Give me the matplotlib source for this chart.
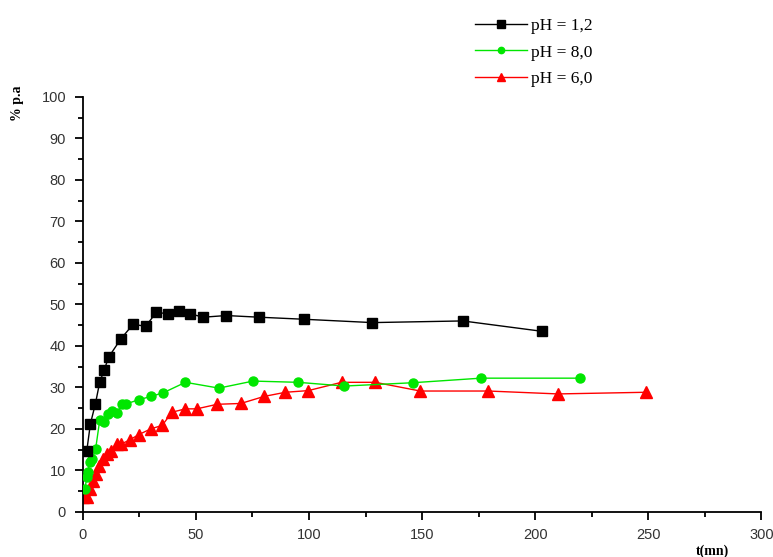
import matplotlib
matplotlib.use("Agg")
import matplotlib.pyplot as plt
from matplotlib.ticker import MultipleLocator

# time (mn) and % p.a for each pH
t_12 = [1.8, 3.4, 5.6, 7.5, 9.5, 11.5, 16.9, 22.3, 27.8, 32.6, 37.6, 42.4, 47.6,
        53.3, 63.4, 78, 98, 128, 168, 203]
p_12 = [14.7, 21.2, 26, 31.2, 34.2, 37.3, 41.7, 45.2, 44.7, 48.1, 47.7, 48.5, 47.7,
        46.9, 47.3, 46.9, 46.4, 45.6, 46.0, 43.5]

t_80 = [0.9, 1.9, 2.3, 3.1, 4.3, 5.7, 7.5, 9.4, 11.1, 13.1, 15.1, 17.5, 19.2, 24.8,
        30.2, 35.7, 45.4, 60.2, 75.3, 95.2, 115.7, 145.9, 176, 219.7]
p_80 = [5.5, 8.3, 9.5, 11.9, 12.7, 15.1, 22, 21.6, 23.6, 24.4, 23.8, 26, 26, 27,
        27.8, 28.7, 31.2, 29.8, 31.5, 31.2, 30.3, 31.1, 32.2, 32.2]

t_60 = [0.1, 1.9, 3.4, 4.5, 5.7, 7.2, 8.9, 10.7, 12.6, 15.1, 17, 20.7, 24.8, 30.2,
        35.1, 39.5, 45.4, 50.4, 59.4, 69.9, 80.2, 89.6, 99.7, 114.4, 129.3, 149.2,
        179.3, 210.1, 249]
p_60 = [3.5, 3.6, 5.5, 7.5, 9.1, 11.1, 12.7, 13.9, 14.7, 16.3, 16.3, 17.3, 18.6, 20,
        20.8, 24, 24.8, 24.8, 25.9, 26.1, 27.8, 28.8, 29.2, 31.2, 31.2, 29.1,
        29.1, 28.4, 28.8]

labels = ["pH = 1,2", "pH = 8,0", "pH = 6,0"]

fig = plt.figure(figsize=(7.73, 5.57), dpi=100)
ax = fig.add_axes([0.107, 0.0813, 0.878, 0.7446])

l60, = ax.plot(t_60, p_60, color="#ff0000", marker="^", markersize=8, lw=1, zorder=2)
l80, = ax.plot(t_80, p_80, color="#00e600", marker="o", markersize=6.5, lw=1, zorder=3)
l12, = ax.plot(t_12, p_12, color="black", marker="s", markersize=7.5, lw=1, zorder=4)

ax.set_xlim(0, 300)
ax.set_ylim(0, 100)
ax.xaxis.set_major_locator(MultipleLocator(50))
ax.xaxis.set_minor_locator(MultipleLocator(25))
ax.yaxis.set_major_locator(MultipleLocator(10))
ax.yaxis.set_minor_locator(MultipleLocator(5))

for s in ["top", "right"]:
    ax.spines[s].set_visible(False)
for s in ["left", "bottom"]:
    ax.spines[s].set_linewidth(1.3)
    ax.spines[s].set_clip_on(False)

ax.tick_params(which="major", direction="out", length=6, width=1.3, colors="black")
ax.tick_params(which="minor", direction="out", length=3.5, width=1.3)
ax.tick_params(labelsize=10.5, labelcolor="#333333", pad=6)
for lab in ax.get_xticklabels() + ax.get_yticklabels():
    lab.set_fontfamily("Liberation Sans")

fig.text(0.023, 0.815, "% p.a", rotation=90, ha="center", va="center",
         family="Liberation Serif", fontweight="bold", fontsize=10)
fig.text(0.922, 0.011, "t(mn)", ha="center", va="center",
         family="Liberation Serif", fontweight="bold", fontsize=10)

leg = fig.legend([l12, l80, l60], labels, loc="upper left",
                 bbox_to_anchor=(0.615, 0.968), frameon=False, borderpad=0,
                 borderaxespad=0, handlelength=3.0, handletextpad=0.2,
                 labelspacing=0.6, markerscale=0.7,
                 prop={"family": "Liberation Serif", "size": 12.5})

fig.savefig("out.png", dpi=100)
